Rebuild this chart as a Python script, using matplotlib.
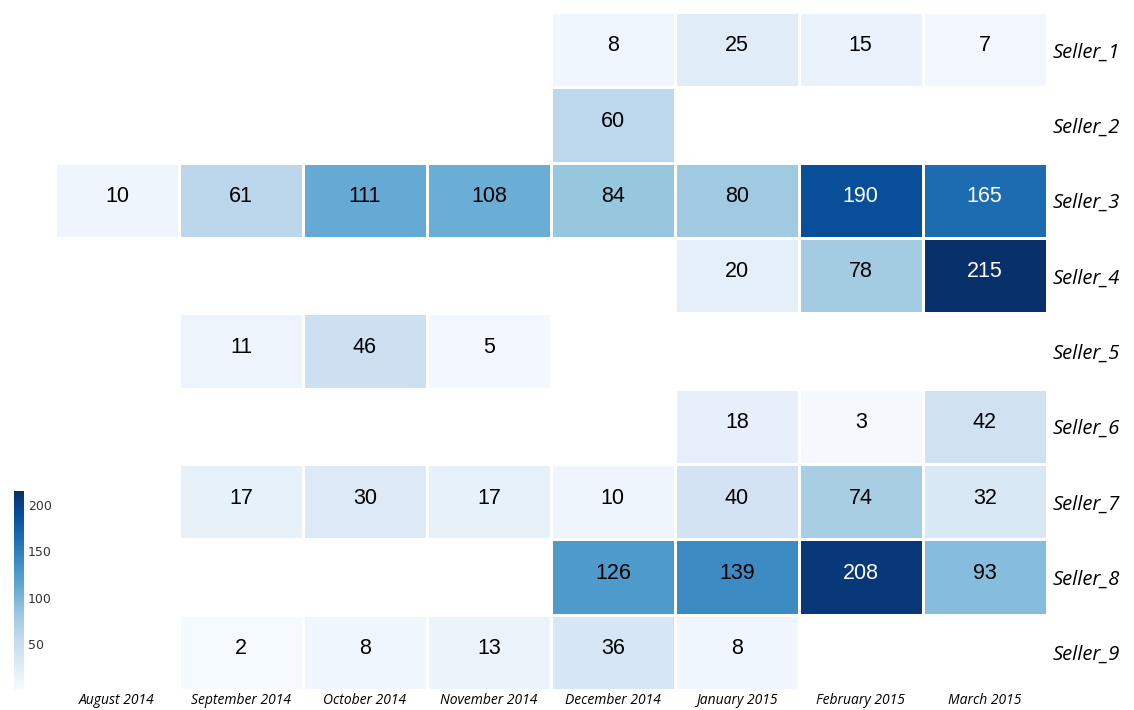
import numpy as np
import matplotlib.pyplot as plt

months = ['August 2014', 'September 2014', 'October 2014', 'November 2014',
          'December 2014', 'January 2015', 'February 2015', 'March 2015']
sellers = ['Seller_1', 'Seller_2', 'Seller_3', 'Seller_4', 'Seller_5',
           'Seller_6', 'Seller_7', 'Seller_8', 'Seller_9']

nan = np.nan
seller_1 = [nan, nan, nan, nan, 8, 25, 15, 7]
seller_2 = [nan, nan, nan, nan, 60, nan, nan, nan]
seller_3 = [10, 61, 111, 108, 84, 80, 190, 165]
seller_4 = [nan, nan, nan, nan, nan, 20, 78, 215]
seller_5 = [nan, 11, 46, 5, nan, nan, nan, nan]
seller_6 = [nan, nan, nan, nan, nan, 18, 3, 42]
seller_7 = [nan, 17, 30, 17, 10, 40, 74, 32]
seller_8 = [nan, nan, nan, nan, 126, 139, 208, 93]
seller_9 = [nan, 2, 8, 13, 36, 8, nan, nan]

data = np.array([seller_1, seller_2, seller_3, seller_4, seller_5,
                 seller_6, seller_7, seller_8, seller_9], dtype=float)
masked = np.ma.masked_invalid(data)

fig = plt.figure(figsize=(11.34, 7.1), dpi=100)
ax = fig.add_axes([0.0485, 0.028, 0.8745, 0.955])

mesh = ax.pcolormesh(masked, cmap='Blues', vmin=0, vmax=215,
                     edgecolors='white', linewidth=0.8)
ax.set_xlim(0, len(months))
ax.set_ylim(len(sellers), 0)

# cell labels, light text on the darkest cells
for i in range(data.shape[0]):
    for j in range(data.shape[1]):
        v = data[i, j]
        if np.isnan(v):
            continue
        color = 'white' if v > 150 else 'black'
        ax.text(j + 0.5, i + 0.45, f'{int(v)}', ha='center', va='center',
                fontsize=15.5, color=color, family='Liberation Sans')

ax.set_xticks(np.arange(len(months)) + 0.5)
ax.set_xticklabels(months, fontsize=10, style='italic', family='Open Sans')
ax.set_yticks(np.arange(len(sellers)) + 0.5)
ax.set_yticklabels(sellers, fontsize=14.5, style='italic', family='Open Sans')
ax.yaxis.tick_right()
ax.tick_params(length=0, pad=4)
ax.tick_params(axis='x', pad=2)
for s in ax.spines.values():
    s.set_visible(False)

cax = fig.add_axes([0.0123, 0.028, 0.0088, 0.28])
cb = fig.colorbar(mesh, cax=cax, ticks=[50, 100, 150, 200])
cb.outline.set_visible(False)
cax.tick_params(length=0, labelsize=9, pad=3, labelcolor='#333333')

fig.savefig('out.png', dpi=100)
